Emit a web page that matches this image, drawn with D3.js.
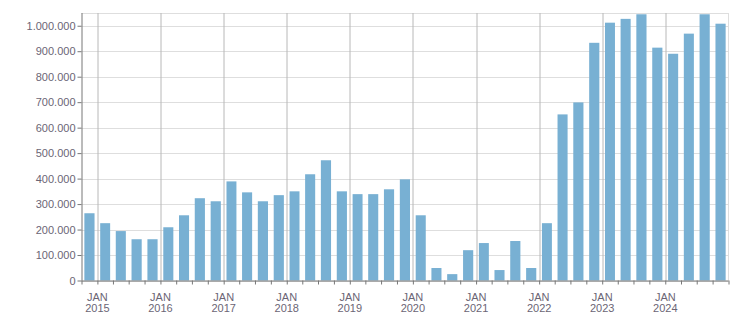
<!DOCTYPE html>
<meta charset="utf-8">
<style>
body { margin: 0; background: #fff; }
svg { display: block; font-family: "Liberation Sans", Arial, sans-serif; }
.grid line { stroke: #dedede; }
.ygrid line { stroke: #dedede; }
.xgrid line { stroke: #b8b8b8; }
.axis path, .axis line { stroke: #777; }
.axis text { fill: #6b6575; font-size: 11px; }
.bar { fill: #78b0d3; }
</style>
<body>
<svg width="751" height="313"></svg>
<script src="https://d3js.org/d3.v7.min.js"></script>
<script>

// quarter start dates (first bar sits just before JAN 2015)
var quarters = ["2014-10", "2015-01", "2015-04", "2015-07", "2015-10",
  "2016-01", "2016-04", "2016-07", "2016-10",
  "2017-01", "2017-04", "2017-07", "2017-10",
  "2018-01", "2018-04", "2018-07", "2018-10",
  "2019-01", "2019-04", "2019-07", "2019-10",
  "2020-01", "2020-04", "2020-07", "2020-10",
  "2021-01", "2021-04", "2021-07", "2021-10",
  "2022-01", "2022-04", "2022-07", "2022-10",
  "2023-01", "2023-04", "2023-07", "2023-10",
  "2024-01", "2024-04", "2024-07", "2024-10"];

var values = [264000, 225000, 194000, 162000, 162000,
  209000, 256000, 323000, 311000,
  389000, 346000, 311000, 335000,
  350000, 417000, 472000, 350000,
  339000, 339000, 358000, 397000,
  256000, 49000, 25000, 119000,
  147000, 41000, 155000, 49000,
  225000, 652000, 699000, 933000,
  1012000, 1027000, 1045000, 914000,
  890000, 969000, 1045000, 1008000];

var yTicks = [0, 100000, 200000, 300000, 400000, 500000,
  600000, 700000, 800000, 900000, 1000000];

var margin = {top: 13, right: 22.5, bottom: 32.5, left: 81.5},
    width = 751 - margin.left - margin.right,
    height = 313 - margin.top - margin.bottom;

var parse = d3.timeParse("%Y-%m");
var dates = quarters.map(parse);

var x = d3.scaleTime()
    .domain([parse("2014-10"), parse("2025-01")])
    .range([0, width]);

var y = d3.scaleLinear()
    .domain([0, 1050000])
    .range([height, 0]);

var locale = d3.formatLocale({decimal: ",", thousands: ".", grouping: [3], currency: ["", ""]});
var fmt = locale.format(",d");

var svg = d3.select("svg");
var g = svg.append("g").attr("transform", "translate(" + margin.left + "," + margin.top + ")");

// horizontal grid
g.append("g").attr("class", "ygrid")
  .selectAll("line")
  .data(yTicks.concat([1050000]))
  .enter().append("line")
    .attr("x1", 0).attr("x2", width)
    .attr("y1", function(d) { return Math.round(y(d)) + 0.5; })
    .attr("y2", function(d) { return Math.round(y(d)) + 0.5; });

// right border
g.append("line").attr("class", "grid")
  .attr("x1", width).attr("x2", width)
  .attr("y1", 0).attr("y2", height)
  .style("stroke", "#dedede");

// january grid lines
var years = d3.timeYear.range(parse("2015-01"), parse("2025-01"));
g.append("g").attr("class", "xgrid")
  .selectAll("line")
  .data(years)
  .enter().append("line")
    .attr("x1", function(d) { return Math.round(x(d)) + 0.5; })
    .attr("x2", function(d) { return Math.round(x(d)) + 0.5; })
    .attr("y1", 0).attr("y2", height);

// bars
g.selectAll(".bar")
  .data(values)
  .enter().append("rect")
    .attr("class", "bar")
    .attr("x", function(d, i) {
      var x0 = x(dates[i]), x1 = x(d3.timeMonth.offset(dates[i], 3));
      return x0 + (x1 - x0) * 0.18;
    })
    .attr("width", function(d, i) {
      var x0 = x(dates[i]), x1 = x(d3.timeMonth.offset(dates[i], 3));
      return (x1 - x0) * 0.64;
    })
    .attr("y", function(d) { return y(d); })
    .attr("height", function(d) { return height - y(d); });

// y axis
g.append("g").attr("class", "axis")
  .call(d3.axisLeft(y).tickValues(yTicks).tickSize(4).tickPadding(2).tickFormat(fmt))
  .call(function(a) { a.select(".domain").attr("d", "M0.5,0V" + height); });

// x axis
var xAxis = g.append("g").attr("class", "axis")
  .attr("transform", "translate(0," + height + ")")
  .call(d3.axisBottom(x).ticks(d3.timeMonth.every(3)).tickSize(4).tickFormat(""))
  .call(function(a) { a.select(".domain").attr("d", "M0," + 0.5 + "H" + width); });

var lab = xAxis.selectAll(".yl")
  .data(years)
  .enter().append("text")
    .attr("class", "yl")
    .attr("text-anchor", "middle")
    .attr("transform", function(d) { return "translate(" + x(d) + ",0)"; });
lab.append("tspan").attr("x", 0).attr("y", 20).text("JAN");
lab.append("tspan").attr("x", 0).attr("y", 31).text(function(d) { return d.getFullYear(); });

</script>
</body>
